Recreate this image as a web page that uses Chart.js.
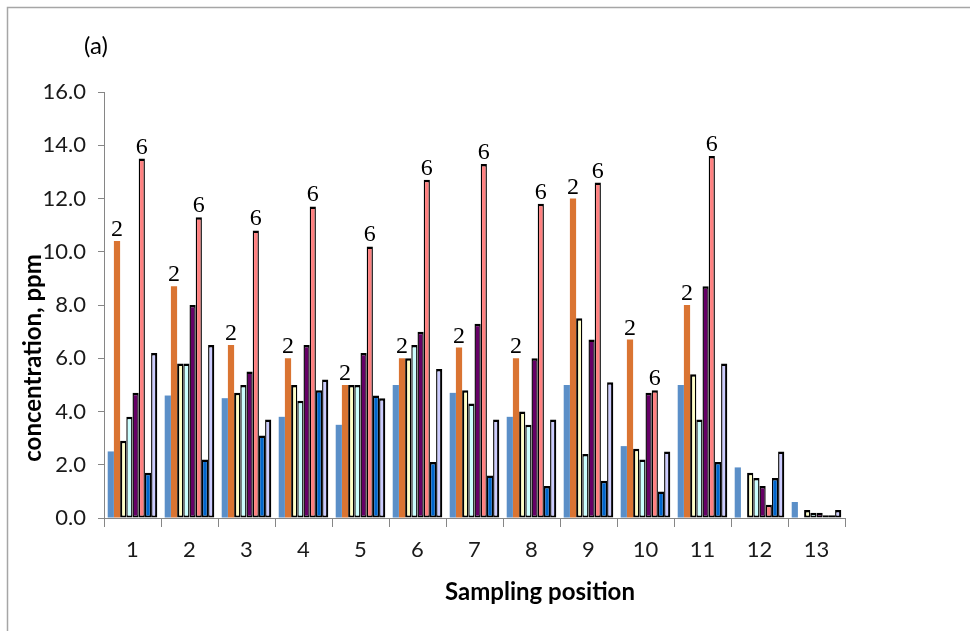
<!DOCTYPE html>
<html>
<head>
<meta charset="utf-8">
<script src="https://cdn.jsdelivr.net/npm/chart.js@4.4.0/dist/chart.umd.min.js"></script>
<style>
  html, body { margin: 0; padding: 0; background: #ffffff; }
  #wrap { width: 970px; height: 631px; position: relative; }
</style>
</head>
<body>
<div id="wrap"><canvas id="chart" width="970" height="631"></canvas></div>
<script>
// Sampling positions along the x axis
const positions = ['1', '2', '3', '4', '5', '6', '7', '8', '9', '10', '11', '12', '13'];

// Concentration (ppm) of each series at every sampling position
const series1 = [2.5, 4.6, 4.5, 3.8, 3.5, 5.0, 4.7, 3.8, 5.0, 2.7, 5.0, 1.9, 0.6];
const series2 = [10.4, 8.7, 6.5, 6.0, 5.0, 6.0, 6.4, 6.0, 12.0, 6.7, 8.0, 0, 0];
const series3 = [2.9, 5.8, 4.7, 5.0, 5.0, 6.0, 4.8, 4.0, 7.5, 2.6, 5.4, 1.7, 0.3];
const series4 = [3.8, 5.8, 5.0, 4.4, 5.0, 6.5, 4.3, 3.5, 2.4, 2.2, 3.7, 1.5, 0.2];
const series5 = [4.7, 8.0, 5.5, 6.5, 6.2, 7.0, 7.3, 6.0, 6.7, 4.7, 8.7, 1.2, 0.2];
const series6 = [13.5, 11.3, 10.8, 11.7, 10.2, 12.7, 13.3, 11.8, 12.6, 4.8, 13.6, 0.5, 0.1];
const series7 = [1.7, 2.2, 3.1, 4.8, 4.6, 2.1, 1.6, 1.2, 1.4, 1.0, 2.1, 1.5, 0.1];
const series8 = [6.2, 6.5, 3.7, 5.2, 4.5, 5.6, 3.7, 3.7, 5.1, 2.5, 5.8, 2.5, 0.3];

// Y axis tick values
const yTicks = [0, 2, 4, 6, 8, 10, 12, 14, 16];

// Series whose name is written above their bars, and where
const taggedSeries = ['2', '6'];
const taggedPositions = ['1', '2', '3', '4', '5', '6', '7', '8', '9', '10', '11'];

const UI_FONT = 'Lato, "Open Sans", "Liberation Sans", sans-serif';

function outlined(label, data, color, left, right) {
  return {
    label, data,
    backgroundColor: color,
    borderColor: '#000000',
    borderWidth: { top: 2.5, bottom: 2, left: left, right: right },
    borderSkipped: false
  };
}

const datasets = [
  { label: '1', data: series1, backgroundColor: '#5B8FC8', borderWidth: 0 },
  { label: '2', data: series2, backgroundColor: '#DA7432', borderWidth: 0 },
  outlined('3', series3, '#FFFFC4', 2.2, 1.4),
  outlined('4', series4, '#CCFFFF', 1.4, 1.4),
  outlined('5', series5, '#660066', 1.4, 1.4),
  outlined('6', series6, '#FF8080', 1.4, 1.4),
  outlined('7', series7, '#0066CC', 1.4, 1.4),
  outlined('8', series8, '#CCCCFF', 1.4, 2.2)
];

// Series names written above the tagged bars
const seriesTags = {
  id: 'seriesTags',
  afterDatasetsDraw(chart) {
    const ctx = chart.ctx;
    ctx.save();
    ctx.font = '24px "Liberation Serif", "DejaVu Serif", serif';
    ctx.fillStyle = '#000000';
    ctx.textAlign = 'center';
    ctx.textBaseline = 'alphabetic';
    chart.data.datasets.forEach((ds, di) => {
      if (!taggedSeries.includes(ds.label)) return;
      chart.getDatasetMeta(di).data.forEach((bar, i) => {
        if (!taggedPositions.includes(positions[i])) return;
        ctx.fillText(ds.label, bar.x, bar.y - 5);
      });
    });
    ctx.restore();
  }
};

// Outer frame, panel letter and axis titles
const frameAndTitles = {
  id: 'frameAndTitles',
  beforeDraw(chart) {
    const ctx = chart.ctx;
    ctx.save();
    ctx.fillStyle = '#ffffff';
    ctx.fillRect(0, 0, chart.width, chart.height);
    ctx.strokeStyle = '#A6A6A6';
    ctx.lineWidth = 1.5;
    ctx.beginPath();
    ctx.moveTo(7.5, chart.height);
    ctx.lineTo(7.5, 7.5);
    ctx.lineTo(chart.width, 7.5);
    ctx.stroke();
    ctx.restore();
  },
  afterDraw(chart) {
    const ctx = chart.ctx;
    ctx.save();
    ctx.fillStyle = '#000000';
    ctx.textAlign = 'center';
    ctx.textBaseline = 'middle';
    ctx.font = '24px ' + UI_FONT;
    ctx.fillText('(a)', 96, 46);
    ctx.font = 'bold 24px ' + UI_FONT;
    ctx.fillText('Sampling position', 540, 592);
    ctx.translate(33, 358);
    ctx.rotate(-Math.PI / 2);
    ctx.fillText('concentration, ppm', 0, 0);
    ctx.restore();
  }
};

new Chart(document.getElementById('chart'), {
  type: 'bar',
  data: { labels: positions, datasets },
  plugins: [frameAndTitles, seriesTags],
  options: {
    responsive: false,
    animation: false,
    events: [],
    layout: { padding: { top: 92, right: 125, left: 0, bottom: 0 } },
    datasets: {
      bar: { categoryPercentage: 0.87, barPercentage: 1.0, inflateAmount: 0 }
    },
    plugins: {
      legend: { display: false },
      tooltip: { enabled: false },
      title: { display: false }
    },
    scales: {
      x: {
        afterFit(scale) { scale.height = 113; },
        grid: {
          offset: true,
          drawOnChartArea: false,
          drawTicks: true,
          tickLength: 9,
          color: '#868686'
        },
        border: { color: '#868686', width: 1 },
        ticks: {
          color: '#1a1a1a',
          font: { family: UI_FONT, size: 22 },
          padding: 10,
          maxRotation: 0
        }
      },
      y: {
        min: 0,
        max: 16,
        afterFit(scale) { scale.width = 104; },
        afterBuildTicks(scale) { scale.ticks = yTicks.map(v => ({ value: v })); },
        grid: {
          drawOnChartArea: false,
          drawTicks: true,
          tickLength: 6,
          color: '#868686'
        },
        border: { color: '#868686', width: 1 },
        ticks: {
          color: '#1a1a1a',
          font: { family: UI_FONT, size: 22 },
          padding: 12,
          callback: v => Number(v).toFixed(1)
        }
      }
    }
  }
});
</script>
</body>
</html>
